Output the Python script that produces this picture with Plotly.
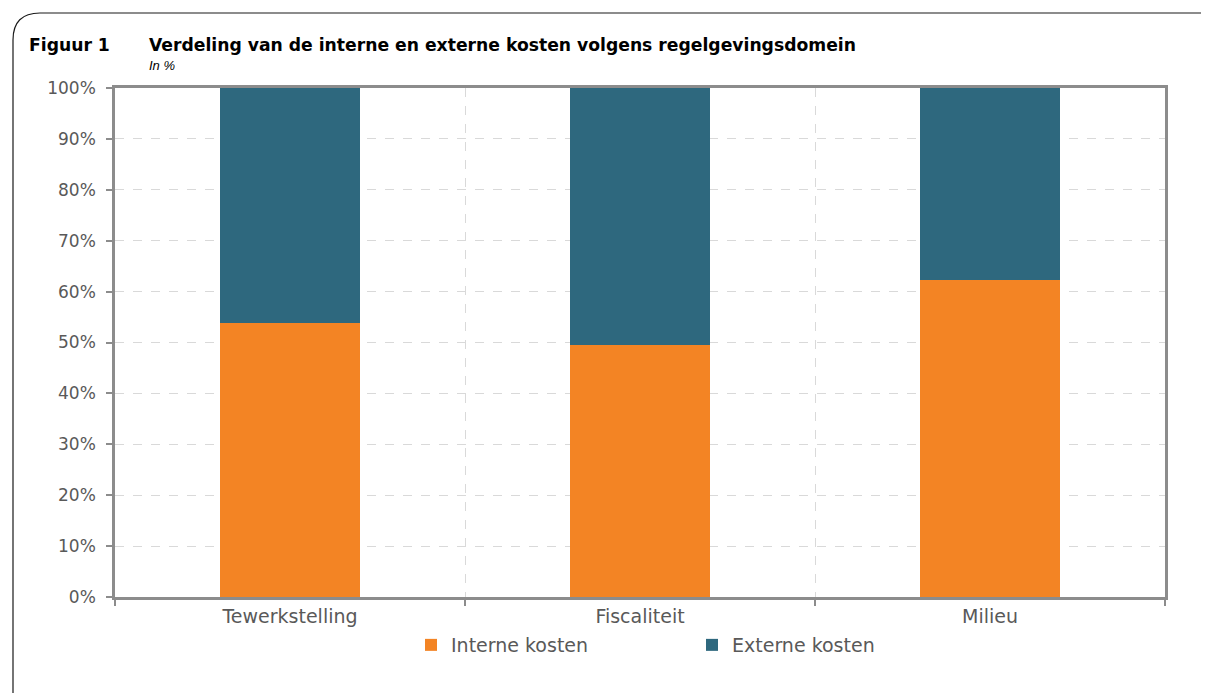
import plotly.graph_objects as go

categories = ["Tewerkstelling", "Fiscaliteit", "Milieu"]
interne = [53.8, 49.5, 62.3]
externe = [100 - v for v in interne]
y_ticks = [0, 10, 20, 30, 40, 50, 60, 70, 80, 90, 100]
y_tick_labels = [f"{v}%" for v in y_ticks]

OFF = 8  # page body margin
W, H = 1209 - OFF, 693 - OFF
# plot area in screenshot pixel coordinates
L, R, T, B = 115, 1165, 88, 597

def px(x):
    return (x - L) / (R - L)

def py(y):
    return (B - y) / (B - T)

fig = go.Figure()
fig.add_trace(go.Bar(x=categories, y=interne, name="Interne kosten",
                     marker=dict(color="#F38424", line=dict(width=0))))
fig.add_trace(go.Bar(x=categories, y=externe, name="Externe kosten",
                     marker=dict(color="#2E687E", line=dict(width=0))))

axis_col = "#8C8C8C"
fig.update_layout(
    width=W, height=H,
    barmode="stack", bargap=0.6,
    plot_bgcolor="white", paper_bgcolor="white",
    margin=dict(l=L - OFF, r=W - (R - OFF), t=T - OFF, b=H - (B - OFF), autoexpand=False),
    font=dict(family="DejaVu Sans", color="#595959", size=16),
    showlegend=True,
    legend=dict(orientation="h", x=px(431 - 20), xanchor="left", y=-0.057, yanchor="top",
                font=dict(size=19, color="#595959"),
                entrywidth=236, entrywidthmode="pixels",
                itemwidth=30, traceorder="normal"),
    xaxis=dict(showline=True, linecolor=axis_col, linewidth=2.5, mirror=True,
               tickson="boundaries", ticks="outside", ticklen=6, tickwidth=2,
               tickcolor=axis_col, showgrid=True, gridcolor="#D9D9D9",
               griddash="dash", gridwidth=1, tickfont=dict(size=19)),
    yaxis=dict(range=[0, 100], tickvals=y_ticks, ticktext=y_tick_labels,
               showline=True, linecolor=axis_col, linewidth=2.5, mirror=True,
               ticks="outside", ticklen=6, tickwidth=2, tickcolor=axis_col,
               showgrid=True, gridcolor="#D9D9D9", griddash="dash", gridwidth=1,
               tickfont=dict(size=17), ticklabelstandoff=7, zeroline=False),
)

# outer frame with rounded top-left corner
fig.add_shape(type="path", xref="paper", yref="paper",
              path=f"M {px(13)},{py(710)} L {px(13)},{py(40)} Q {px(13)},{py(13)} {px(40)},{py(13)} L {px(1230)},{py(13)}",
              line=dict(color="#1A1A1A", width=1.2), layer="above")

fig.add_annotation(text="<b>Figuur 1</b>", xref="paper", yref="paper",
                   x=px(27), y=py(45), xanchor="left", yanchor="middle",
                   showarrow=False, font=dict(family="DejaVu Sans", size=17.2, color="black"))
fig.add_annotation(text="<b>Verdeling van de interne en externe kosten volgens regelgevingsdomein</b>",
                   xref="paper", yref="paper",
                   x=px(147), y=py(45), xanchor="left", yanchor="middle",
                   showarrow=False, font=dict(family="DejaVu Sans", size=17.2, color="black"))
fig.add_annotation(text="<i>In %</i>", xref="paper", yref="paper",
                   x=px(147), y=py(65), xanchor="left", yanchor="middle",
                   showarrow=False, font=dict(family="Liberation Sans", size=13, color="black"))

fig.write_html("out.html")
